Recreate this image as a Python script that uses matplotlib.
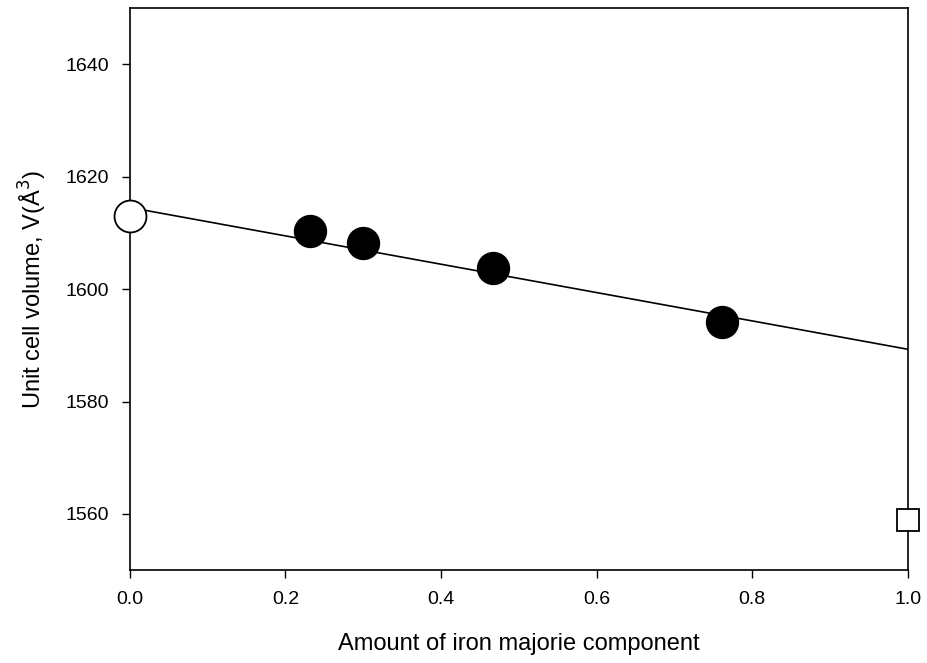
import matplotlib
matplotlib.use("Agg")
import matplotlib.pyplot as plt

plt.rcParams['font.family'] = ['Liberation Sans', 'DejaVu Sans']

filled_x = [0.231, 0.300, 0.467, 0.761]
filled_y = [1610.3, 1608.2, 1603.8, 1594.1]
open_circle_x = [0.0]
open_circle_y = [1613.0]
open_square_x = [1.0]
open_square_y = [1558.9]
line_x = [0.0, 1.0]
line_y = [1614.5, 1589.3]

xticks = [0.0, 0.2, 0.4, 0.6, 0.8, 1.0]
yticks = [1560, 1580, 1600, 1620, 1640]

fig = plt.figure(figsize=(9.28, 6.63), dpi=100)
ax = fig.add_axes([0.14, 0.14, 0.838, 0.848])

ax.plot(line_x, line_y, color='black', lw=1.2, zorder=2)
ax.plot(filled_x, filled_y, 'o', ms=23, color='black', zorder=3, clip_on=False)
ax.plot(open_circle_x, open_circle_y, 'o', ms=23, mfc='white', mec='black', mew=1.3, zorder=4, clip_on=False)
ax.plot(open_square_x, open_square_y, 's', ms=16.5, mfc='white', mec='black', mew=1.3, zorder=4, clip_on=False)

ax.set_xlim(0, 1.0)
ax.set_ylim(1550, 1650)
ax.set_xticks(xticks)
ax.set_xticklabels([f"{v:.1f}" for v in xticks])
ax.set_yticks(yticks)
ax.tick_params(direction='out', length=6, width=1, labelsize=14, pad=9)
for s in ax.spines.values():
    s.set_linewidth(1.2)

ax.set_xlabel("Amount of iron majorie component", fontsize=17, labelpad=18)
ax.set_ylabel("Unit cell volume, V(Å$^3$)", fontsize=17, labelpad=12)

fig.savefig("out.png", dpi=100)
